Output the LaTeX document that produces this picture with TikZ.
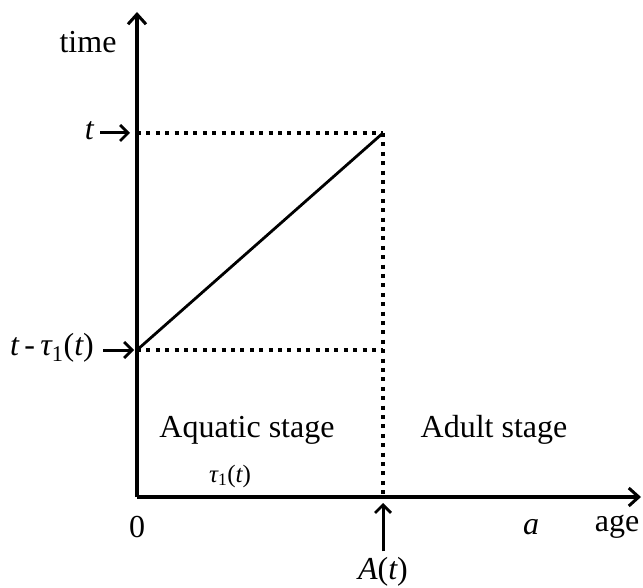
\documentclass[tikz,border=0pt]{standalone}
\usepackage{fontspec}
\setmainfont{Liberation Serif}
\usetikzlibrary{arrows.meta}
\begin{document}
\begin{tikzpicture}[x=1pt,y=-1pt,
  lbl/.style={font=\fontsize{32}{38}\selectfont, inner sep=0pt},
  smalllbl/.style={font=\fontsize{25}{30}\selectfont, inner sep=0pt},
  axis/.style={line width=3.2pt, -{Straight Barb[length=10pt,width=18pt,line width=3pt]}},
  pointer/.style={line width=3pt, -{Straight Barb[length=8pt,width=16pt,line width=2.8pt]}},
  guide/.style={line width=4pt, dash pattern=on 4pt off 5.4pt},
  ray/.style={line width=2.8pt}]
\useasboundingbox (0,0) rectangle (643,588);
% points
\coordinate (O) at (137,497);
\coordinate (Ytop) at (137,12);
\coordinate (Xend) at (641,497);
\coordinate (T) at (137,133);
\coordinate (Ttau) at (137,350);
\coordinate (C) at (383,133);
\coordinate (D) at (383,350);
\coordinate (E) at (383,497);
% guides
\draw[guide] (T) -- (C);
\draw[guide] (Ttau) -- (D);
\draw[guide] (C) -- (E);
% ray
\draw[ray] (Ttau) -- (C);
% axes
\draw[axis] (O) -- (Ytop);
\draw[axis] (O) -- (Xend);
% labels
\node[lbl] (time) at (88,42) {time};
\node[lbl, anchor=east] (tl) at (94,131) {\itshape t};
\coordinate (tlarrow) at (130,133);
\draw[pointer] (tl.east) ++(6,2) coordinate (tls) -- (tlarrow);
\node[lbl, anchor=east] (ttl) at (94,348) {\itshape t\,\upshape-\,\itshape τ\upshape\textsubscript{1}(\itshape t\upshape)};
\coordinate (ttlarrow) at (134,350);
\draw[pointer] (ttl.east) ++(9,2) coordinate (ttls) -- (ttlarrow);
\node[lbl] (aq) at (247,430) {Aquatic stage};
\node[smalllbl] (tau) at (230,476) {\itshape τ\upshape\textsubscript{1}(\itshape t\upshape)};
\node[lbl] (ad) at (494,430) {Adult stage};
\node[lbl] (zero) at (137,527) {0};
\node[lbl] (a) at (531,527) {\itshape a};
\node[lbl] (age) at (617,527) {age};
\node[lbl] (At) at (383,572) {\itshape A\upshape(\itshape t\upshape)};
\coordinate (Aarrow) at (383,503);
\draw[pointer] (At.north) ++(0,-6) coordinate (Ats) -- (Aarrow);
\end{tikzpicture}
\end{document}
